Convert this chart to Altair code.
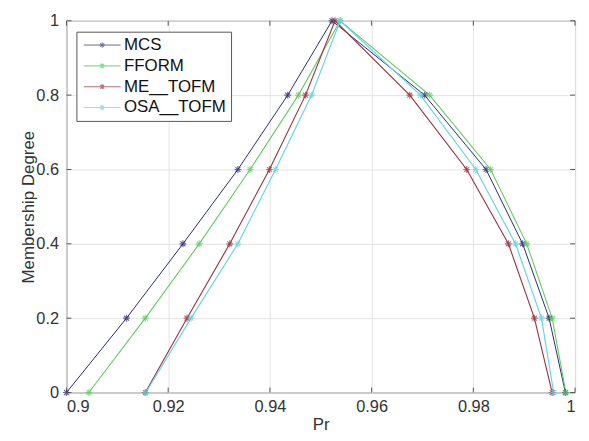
import altair as alt
import pandas as pd

series = ["MCS", "FFORM", "ME__TOFM", "OSA__TOFM"]
colors = ["#2b2a72", "#5fcb5f", "#9a3340", "#6ad3e6"]
line_widths = [1.0, 1.2, 1.2, 2.0]

membership = [0, 0.2, 0.4, 0.6, 0.8, 1, 0.8, 0.6, 0.4, 0.2, 0]
mcs = [0.9000, 0.9118, 0.9229, 0.9337, 0.9435, 0.9522, 0.9704, 0.9825, 0.9897, 0.9949, 0.9981]
fform = [0.9044, 0.9155, 0.9261, 0.9361, 0.9456, 0.9538, 0.9714, 0.9834, 0.9905, 0.9955, 0.9982]
me_tofm = [0.9155, 0.9237, 0.9321, 0.9399, 0.9470, 0.9528, 0.9675, 0.9787, 0.9869, 0.9920, 0.9955]
osa_tofm = [0.9156, 0.9245, 0.9337, 0.9411, 0.9482, 0.9538, 0.9696, 0.9805, 0.9883, 0.9934, 0.9958]

x_ticks = [0.9, 0.92, 0.94, 0.96, 0.98, 1.0]
y_ticks = [0, 0.2, 0.4, 0.6, 0.8, 1.0]

rows = []
for name, xs in zip(series, [mcs, fform, me_tofm, osa_tofm]):
    for i, (x, y) in enumerate(zip(xs, membership)):
        rows.append({"series": name, "pr": x, "mu": y, "idx": i})
df = pd.DataFrame(rows)

STAR = "M-1,0H1M0,-1V1M-0.7,-0.7L0.7,0.7M-0.7,0.7L0.7,-0.7"
LEG = ("M-1,0H5.17M1.63,0H2.53M2.08,-0.45V0.45"
       "M1.76,-0.32L2.4,0.32M1.76,0.32L2.4,-0.32")

FONT = "Liberation Sans"
W, H = 513, 375

x_scale = alt.Scale(domain=[0.9, 1.0], nice=False, zero=False)
y_scale = alt.Scale(domain=[0, 1], nice=False, zero=False)

x_enc = alt.X("pr:Q", scale=x_scale, title="Pr",
              axis=alt.Axis(values=x_ticks, format="~g", grid=True, ticks=False,
                            tickSize=0, domain=False, labelPadding=6,
                            titlePadding=2))
y_enc = alt.Y("mu:Q", scale=y_scale, title="Membership Degree",
              axis=alt.Axis(values=y_ticks, format="~g", grid=True, ticks=False,
                            tickSize=0, domain=False, labelPadding=8,
                            titlePadding=-2))
color_enc = alt.Color("series:N", sort=series,
                      scale=alt.Scale(domain=series, range=colors),
                      legend=alt.Legend(title=None, orient="none", legendX=10, legendY=11,
                                        symbolType=LEG, symbolSize=144,
                                        symbolStrokeWidth=1.2, labelFontSize=17,
                                        labelFont=FONT, labelColor="#111111",
                                        labelOffset=26, rowPadding=3, padding=5,
                                        strokeColor="#555555", fillColor="#ffffff",
                                        cornerRadius=0))

base = alt.Chart(df).encode(x=x_enc, y=y_enc, color=color_enc, order="idx:Q")

lines = base.mark_line().encode(
    strokeWidth=alt.StrokeWidth("series:N", scale=alt.Scale(domain=series, range=line_widths),
                                legend=None)
)
points = base.mark_point(shape=STAR, size=49, filled=False, strokeWidth=1.2)

xt = pd.DataFrame({"v": x_ticks})
yt = pd.DataFrame({"v": y_ticks})
tick_color = "#555555"
xb = alt.Chart(xt).mark_rule(color=tick_color).encode(x=alt.X("v:Q", scale=x_scale), y=alt.value(H), y2=alt.value(H - 5))
xtop = alt.Chart(xt).mark_rule(color=tick_color).encode(x=alt.X("v:Q", scale=x_scale), y=alt.value(0), y2=alt.value(5))
yl = alt.Chart(yt).mark_rule(color=tick_color).encode(y=alt.Y("v:Q", scale=y_scale), x=alt.value(0), x2=alt.value(5))
yr = alt.Chart(yt).mark_rule(color=tick_color).encode(y=alt.Y("v:Q", scale=y_scale), x=alt.value(W), x2=alt.value(W - 5))

chart = alt.layer(lines, points, xb, xtop, yl, yr).properties(
    width=W, height=H,
    autosize=alt.AutoSizeParams(type="none"),
    padding={"left": 59, "top": 11, "right": 6, "bottom": 46},
).configure_view(
    stroke="#666666", strokeWidth=1
).configure_axis(
    labelFont=FONT, titleFont=FONT, labelFontSize=16.5, titleFontSize=17,
    titleFontWeight="normal", labelColor="#333333", titleColor="#333333",
    gridColor="#e4e4e4", gridWidth=1
)

chart.save("out.html", embed_options={"renderer": "svg", "actions": False})
